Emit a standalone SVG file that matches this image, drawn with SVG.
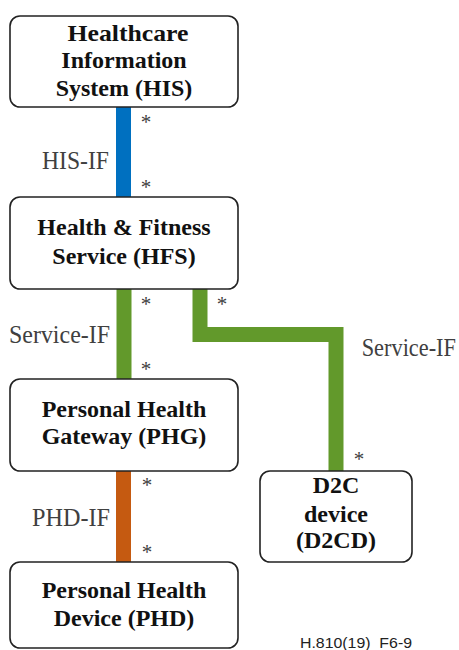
<svg xmlns="http://www.w3.org/2000/svg" width="459" height="650" viewBox="0 0 459 650">
<style>
.box{fill:#fff;stroke:#222;stroke-width:1.6}
.t{font-family:"Liberation Serif","Times New Roman",serif;font-weight:bold;font-size:24px;fill:#111;text-anchor:middle}
.lbl{font-family:"Liberation Serif","Times New Roman",serif;font-size:26px;fill:#404040}
.ast{font-family:"Liberation Serif","Times New Roman",serif;font-size:21px;fill:#404040;text-anchor:middle}
.bar{fill:none;stroke-width:15}
</style>
<rect width="459" height="650" fill="#fff"/>
<g id="connectors">
<line class="bar" x1="123.5" y1="107" x2="123.5" y2="197" stroke="#0070C0"/>
<line class="bar" x1="124" y1="289" x2="124" y2="379" stroke="#62992B"/>
<polyline class="bar" points="200,289 200,334.5 336,334.5 336,471" stroke="#62992B"/>
<line class="bar" x1="123.5" y1="471" x2="123.5" y2="562" stroke="#C55A11"/>
<text class="lbl" x="42" y="169" textLength="67" lengthAdjust="spacingAndGlyphs">HIS-IF</text>
<text class="lbl" x="9" y="343" textLength="101" lengthAdjust="spacingAndGlyphs">Service-IF</text>
<text class="lbl" transform="translate(456,356) scale(0.86,1)" x="0" y="0" font-size="24" text-anchor="end">Service-IF</text>
<text class="lbl" x="32" y="526" textLength="78" lengthAdjust="spacingAndGlyphs">PHD-IF</text>
<text class="ast" x="146" y="129">*</text>
<text class="ast" x="146" y="194">*</text>
<text class="ast" x="146" y="311">*</text>
<text class="ast" x="146" y="376">*</text>
<text class="ast" x="222" y="311">*</text>
<text class="ast" x="359" y="466">*</text>
<text class="ast" x="147" y="492">*</text>
<text class="ast" x="147" y="559">*</text>
</g>
<g id="his">
<rect class="box" x="10" y="16" width="228" height="91" rx="10"/>
<text class="t" x="128" y="41" textLength="121" lengthAdjust="spacingAndGlyphs">Healthcare</text>
<text class="t" x="124" y="68">Information</text>
<text class="t" x="124" y="96">System (HIS)</text>
</g>
<g id="hfs">
<rect class="box" x="10" y="197" width="228" height="92" rx="10"/>
<text class="t" x="124" y="235">Health &amp; Fitness</text>
<text class="t" x="124" y="264">Service (HFS)</text>
</g>
<g id="phg">
<rect class="box" x="10" y="379" width="228" height="92" rx="10"/>
<text class="t" x="124" y="417">Personal Health</text>
<text class="t" x="124" y="444">Gateway (PHG)</text>
</g>
<g id="d2cd">
<rect class="box" x="260" y="471" width="152" height="91" rx="10"/>
<text class="t" x="336" y="493">D2C</text>
<text class="t" x="336" y="522">device</text>
<text class="t" x="336" y="548">(D2CD)</text>
</g>
<g id="phd">
<rect class="box" x="10" y="562" width="228" height="86" rx="10"/>
<text class="t" x="124" y="598">Personal Health</text>
<text class="t" x="124" y="626">Device (PHD)</text>
</g>
<text x="300" y="648" font-family="Liberation Sans,Arial,sans-serif" font-size="15" fill="#222" textLength="112" lengthAdjust="spacingAndGlyphs">H.810(19)_F6-9</text>
</svg>
